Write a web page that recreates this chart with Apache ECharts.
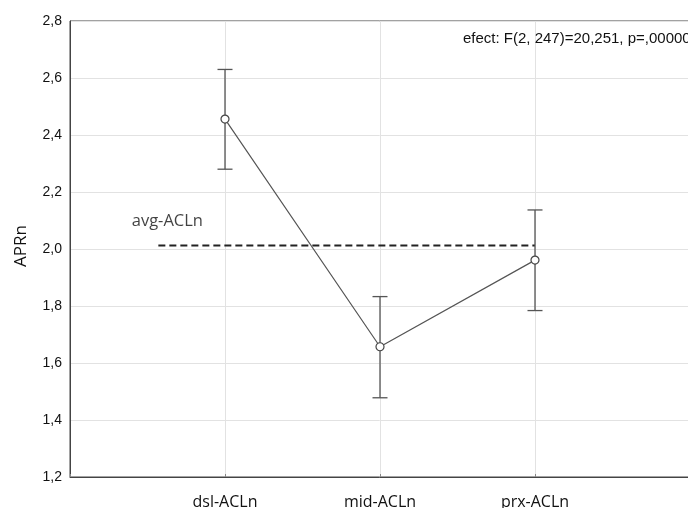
<!DOCTYPE html>
<html><head><meta charset="utf-8">
<script src="https://cdn.jsdelivr.net/npm/echarts@6/dist/echarts.min.js"></script>
<style>html,body{margin:0;padding:0;background:#fff}#c{width:688px;height:508px}</style>
</head><body><div id="c"></div>
<script>
const categories = ['dsl-ACLn', 'mid-ACLn', 'prx-ACLn'];
const means = [2.456, 1.657, 1.961];
const upper = [2.630, 1.833, 2.137];
const lower = [2.280, 1.478, 1.784];
const avgValue = 2.012;
const avgRange = [0.57, 3];
const avgLabel = 'avg-ACLn';
const yTicks = [1.2, 1.4, 1.6, 1.8, 2.0, 2.2, 2.4, 2.6, 2.8];
const annotation = 'efect: F(2, 247)=20,251, p=,00000';

const chart = echarts.init(document.getElementById('c'), null, {renderer: 'canvas'});
const pts = means.map((m, i) => [i + 1, m]);
const errData = means.map((m, i) => [i + 1, lower[i], upper[i]]);
chart.setOption({
  animation: false,
  backgroundColor: '#fff',
  grid: {left: 70, top: 21, width: 620, height: 456, containLabel: false, outerBoundsMode: 'none',
    show: true, borderColor: '#444', borderWidth: 1},
  xAxis: {
    type: 'value', min: 0, max: 4, interval: 1,
    axisLine: {lineStyle: {color: '#444'}},
    axisTick: {show: true, inside: true, length: 3, lineStyle: {color: '#888'}},
    splitLine: {show: true, lineStyle: {color: '#e2e2e2'}},
    axisLabel: {
      formatter: v => categories[v - 1] || '', margin: 17,
      fontFamily: 'Open Sans', fontSize: 16, color: '#111'
    }
  },
  yAxis: {
    type: 'value', min: yTicks[0], max: yTicks[yTicks.length - 1], interval: 0.2,
    name: 'APRn', nameLocation: 'middle', nameGap: 40,
    nameTextStyle: {fontFamily: 'Open Sans', fontSize: 17, color: '#111', padding: [0, 0, 0, 6]},
    axisLine: {show: true, lineStyle: {color: '#444'}},
    axisTick: {show: false},
    splitLine: {show: true, lineStyle: {color: '#e2e2e2'}},
    axisLabel: {
      formatter: v => v.toFixed(1).replace('.', ','), margin: 8,
      fontFamily: 'Liberation Sans', fontSize: 14, color: '#111'
    }
  },
  title: {
    text: annotation, left: 458, top: 26,
    textStyle: {fontFamily: 'Liberation Sans', fontSize: 15, fontWeight: 'normal', color: '#111'}
  },
  series: [
    {
      type: 'line', data: [[avgRange[0], avgValue], [avgRange[1], avgValue]],
      symbol: 'none', lineStyle: {color: '#222', width: 2, type: [7, 4]}, z: 3
    },
    {
      type: 'custom', data: errData, z: 4,
      renderItem: (params, api) => {
        const x = api.value(0);
        const lo = api.coord([x, api.value(1)]);
        const hi = api.coord([x, api.value(2)]);
        const w = 7.5;
        const st = {stroke: '#555', lineWidth: 1.3};
        return {type: 'group', children: [
          {type: 'line', shape: {x1: lo[0], y1: lo[1], x2: hi[0], y2: hi[1]}, style: st},
          {type: 'line', shape: {x1: lo[0] - w, y1: lo[1], x2: lo[0] + w, y2: lo[1]}, style: st},
          {type: 'line', shape: {x1: hi[0] - w, y1: hi[1], x2: hi[0] + w, y2: hi[1]}, style: st}
        ]};
      }
    },
    {
      type: 'line', data: pts, symbol: 'circle', symbolSize: 8, z: 5,
      lineStyle: {color: '#555', width: 1.2},
      itemStyle: {color: '#fff', borderColor: '#444', borderWidth: 1.2}
    },
    {
      type: 'scatter', data: [[avgRange[0], avgValue]], symbolSize: 0, z: 6,
      label: {show: true, formatter: avgLabel, position: 'top', offset: [9, -11],
        fontFamily: 'Open Sans', fontSize: 16.5, color: '#111'}
    }
  ]
});
</script></body></html>
